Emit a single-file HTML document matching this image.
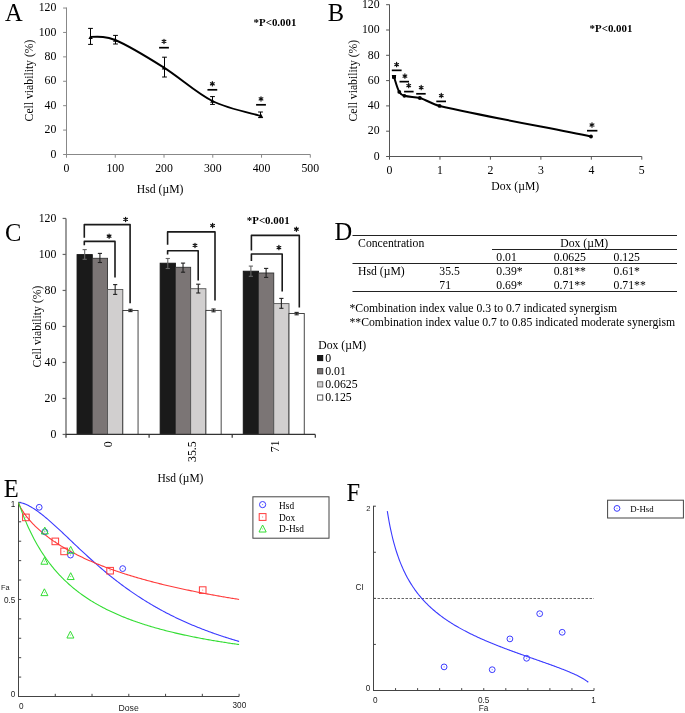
<!DOCTYPE html>
<html><head><meta charset="utf-8"><style>
html,body{margin:0;padding:0;background:#fff;}
body{width:685px;height:713px;overflow:hidden;}
svg{display:block;will-change:transform;}
</style></head><body>
<svg width="685" height="713" viewBox="0 0 685 713">
<rect width="685" height="713" fill="#fff"/>
<text x="5.00" y="20.50" style="font-family:'Liberation Serif',serif;font-size:24.5px;font-weight:normal" text-anchor="start" fill="#000">A</text>
<line x1="66.50" y1="7.50" x2="66.50" y2="155.00" stroke="#888" stroke-width="1"/>
<line x1="66.00" y1="154.50" x2="310.30" y2="154.50" stroke="#888" stroke-width="1"/>
<line x1="63.10" y1="154.50" x2="66.50" y2="154.50" stroke="#888" stroke-width="1"/>
<text x="56.40" y="157.70" style="font-family:'Liberation Serif',serif;font-size:11.8px;font-weight:normal" text-anchor="end" fill="#000">0</text>
<line x1="63.10" y1="130.09" x2="66.50" y2="130.09" stroke="#888" stroke-width="1"/>
<text x="56.40" y="133.29" style="font-family:'Liberation Serif',serif;font-size:11.8px;font-weight:normal" text-anchor="end" fill="#000">20</text>
<line x1="63.10" y1="105.68" x2="66.50" y2="105.68" stroke="#888" stroke-width="1"/>
<text x="56.40" y="108.88" style="font-family:'Liberation Serif',serif;font-size:11.8px;font-weight:normal" text-anchor="end" fill="#000">40</text>
<line x1="63.10" y1="81.27" x2="66.50" y2="81.27" stroke="#888" stroke-width="1"/>
<text x="56.40" y="84.47" style="font-family:'Liberation Serif',serif;font-size:11.8px;font-weight:normal" text-anchor="end" fill="#000">60</text>
<line x1="63.10" y1="56.86" x2="66.50" y2="56.86" stroke="#888" stroke-width="1"/>
<text x="56.40" y="60.06" style="font-family:'Liberation Serif',serif;font-size:11.8px;font-weight:normal" text-anchor="end" fill="#000">80</text>
<line x1="63.10" y1="32.45" x2="66.50" y2="32.45" stroke="#888" stroke-width="1"/>
<text x="56.40" y="35.65" style="font-family:'Liberation Serif',serif;font-size:11.8px;font-weight:normal" text-anchor="end" fill="#000">100</text>
<line x1="63.10" y1="8.04" x2="66.50" y2="8.04" stroke="#888" stroke-width="1"/>
<text x="56.40" y="11.24" style="font-family:'Liberation Serif',serif;font-size:11.8px;font-weight:normal" text-anchor="end" fill="#000">120</text>
<line x1="66.50" y1="154.50" x2="66.50" y2="157.70" stroke="#888" stroke-width="1"/>
<text x="66.50" y="172.10" style="font-family:'Liberation Serif',serif;font-size:11.8px;font-weight:normal" text-anchor="middle" fill="#000">0</text>
<line x1="115.26" y1="154.50" x2="115.26" y2="157.70" stroke="#888" stroke-width="1"/>
<text x="115.26" y="172.10" style="font-family:'Liberation Serif',serif;font-size:11.8px;font-weight:normal" text-anchor="middle" fill="#000">100</text>
<line x1="164.02" y1="154.50" x2="164.02" y2="157.70" stroke="#888" stroke-width="1"/>
<text x="164.02" y="172.10" style="font-family:'Liberation Serif',serif;font-size:11.8px;font-weight:normal" text-anchor="middle" fill="#000">200</text>
<line x1="212.78" y1="154.50" x2="212.78" y2="157.70" stroke="#888" stroke-width="1"/>
<text x="212.78" y="172.10" style="font-family:'Liberation Serif',serif;font-size:11.8px;font-weight:normal" text-anchor="middle" fill="#000">300</text>
<line x1="261.54" y1="154.50" x2="261.54" y2="157.70" stroke="#888" stroke-width="1"/>
<text x="261.54" y="172.10" style="font-family:'Liberation Serif',serif;font-size:11.8px;font-weight:normal" text-anchor="middle" fill="#000">400</text>
<line x1="310.30" y1="154.50" x2="310.30" y2="157.70" stroke="#888" stroke-width="1"/>
<text x="310.30" y="172.10" style="font-family:'Liberation Serif',serif;font-size:11.8px;font-weight:normal" text-anchor="middle" fill="#000">500</text>
<text x="160.10" y="192.50" style="font-family:'Liberation Serif',serif;font-size:11.7px;font-weight:normal" text-anchor="middle" fill="#000">Hsd (µM)</text>
<text x="33.20" y="80.50" style="font-family:'Liberation Serif',serif;font-size:11.7px;font-weight:normal" text-anchor="middle" fill="#000" transform="rotate(-90 33.2 80.5)">Cell viability (%)</text>
<text x="253.60" y="26.00" style="font-family:'Liberation Serif',serif;font-size:10.9px;font-weight:bold" text-anchor="start" fill="#000">*P&lt;0.001</text>
<path d="M90.6,36.9 C100,36.5 106,36.4 115.2,40.0 C127.43,45.07 147.80,57.43 164.00,67.60 C180.20,77.77 196.23,92.93 212.40,101.00 C228.57,109.07 252.90,113.50 261.00,116.00" fill="none" stroke="#000" stroke-width="1.9"/>
<line x1="90.50" y1="28.40" x2="90.50" y2="44.40" stroke="#000" stroke-width="1"/>
<line x1="88.10" y1="28.40" x2="92.90" y2="28.40" stroke="#000" stroke-width="1"/>
<line x1="88.10" y1="44.40" x2="92.90" y2="44.40" stroke="#000" stroke-width="1"/>
<line x1="115.50" y1="35.40" x2="115.50" y2="44.00" stroke="#000" stroke-width="1"/>
<line x1="113.10" y1="35.40" x2="117.90" y2="35.40" stroke="#000" stroke-width="1"/>
<line x1="113.10" y1="44.00" x2="117.90" y2="44.00" stroke="#000" stroke-width="1"/>
<line x1="164.50" y1="57.20" x2="164.50" y2="77.00" stroke="#000" stroke-width="1"/>
<line x1="162.10" y1="57.20" x2="166.90" y2="57.20" stroke="#000" stroke-width="1"/>
<line x1="162.10" y1="77.00" x2="166.90" y2="77.00" stroke="#000" stroke-width="1"/>
<line x1="212.50" y1="96.60" x2="212.50" y2="104.40" stroke="#000" stroke-width="1"/>
<line x1="210.10" y1="96.60" x2="214.90" y2="96.60" stroke="#000" stroke-width="1"/>
<line x1="210.10" y1="104.40" x2="214.90" y2="104.40" stroke="#000" stroke-width="1"/>
<line x1="260.50" y1="112.00" x2="260.50" y2="117.60" stroke="#000" stroke-width="1"/>
<line x1="258.10" y1="112.00" x2="262.90" y2="112.00" stroke="#000" stroke-width="1"/>
<line x1="258.10" y1="117.60" x2="262.90" y2="117.60" stroke="#000" stroke-width="1"/>
<path d="M88.40,39.00 L90.60,35.00 L92.80,39.00 Z" fill="#000"/>
<path d="M113.00,41.80 L115.20,37.80 L117.40,41.80 Z" fill="#000"/>
<path d="M161.80,69.40 L164.00,65.40 L166.20,69.40 Z" fill="#000"/>
<path d="M210.20,102.80 L212.40,98.80 L214.60,102.80 Z" fill="#000"/>
<path d="M258.80,117.80 L261.00,113.80 L263.20,117.80 Z" fill="#000"/>
<line x1="159.10" y1="47.70" x2="168.90" y2="47.70" stroke="#000" stroke-width="1.7"/>
<path d="M164.00,39.25 L164.00,43.55 M162.14,40.32 L165.86,42.48 M165.86,40.32 L162.14,42.48 " stroke="#111" stroke-width="1.2" stroke-linecap="round" fill="none"/>
<line x1="207.45" y1="89.80" x2="217.25" y2="89.80" stroke="#000" stroke-width="1.7"/>
<path d="M212.35,81.65 L212.35,85.95 M210.49,82.72 L214.21,84.88 M214.21,82.72 L210.49,84.88 " stroke="#111" stroke-width="1.2" stroke-linecap="round" fill="none"/>
<line x1="256.10" y1="104.80" x2="265.90" y2="104.80" stroke="#000" stroke-width="1.7"/>
<path d="M261.00,96.75 L261.00,101.05 M259.14,97.83 L262.86,99.98 M262.86,97.83 L259.14,99.98 " stroke="#111" stroke-width="1.2" stroke-linecap="round" fill="none"/>
<text x="327.80" y="20.50" style="font-family:'Liberation Serif',serif;font-size:24.5px;font-weight:normal" text-anchor="start" fill="#000">B</text>
<line x1="389.50" y1="4.50" x2="389.50" y2="157.00" stroke="#555" stroke-width="1"/>
<line x1="389.00" y1="156.50" x2="641.80" y2="156.50" stroke="#555" stroke-width="1"/>
<line x1="386.10" y1="156.50" x2="389.50" y2="156.50" stroke="#555" stroke-width="1"/>
<text x="379.60" y="159.70" style="font-family:'Liberation Serif',serif;font-size:11.8px;font-weight:normal" text-anchor="end" fill="#000">0</text>
<line x1="386.10" y1="131.20" x2="389.50" y2="131.20" stroke="#555" stroke-width="1"/>
<text x="379.60" y="134.40" style="font-family:'Liberation Serif',serif;font-size:11.8px;font-weight:normal" text-anchor="end" fill="#000">20</text>
<line x1="386.10" y1="105.90" x2="389.50" y2="105.90" stroke="#555" stroke-width="1"/>
<text x="379.60" y="109.10" style="font-family:'Liberation Serif',serif;font-size:11.8px;font-weight:normal" text-anchor="end" fill="#000">40</text>
<line x1="386.10" y1="80.60" x2="389.50" y2="80.60" stroke="#555" stroke-width="1"/>
<text x="379.60" y="83.80" style="font-family:'Liberation Serif',serif;font-size:11.8px;font-weight:normal" text-anchor="end" fill="#000">60</text>
<line x1="386.10" y1="55.30" x2="389.50" y2="55.30" stroke="#555" stroke-width="1"/>
<text x="379.60" y="58.50" style="font-family:'Liberation Serif',serif;font-size:11.8px;font-weight:normal" text-anchor="end" fill="#000">80</text>
<line x1="386.10" y1="30.00" x2="389.50" y2="30.00" stroke="#555" stroke-width="1"/>
<text x="379.60" y="33.20" style="font-family:'Liberation Serif',serif;font-size:11.8px;font-weight:normal" text-anchor="end" fill="#000">100</text>
<line x1="386.10" y1="4.70" x2="389.50" y2="4.70" stroke="#555" stroke-width="1"/>
<text x="379.60" y="7.90" style="font-family:'Liberation Serif',serif;font-size:11.8px;font-weight:normal" text-anchor="end" fill="#000">120</text>
<line x1="389.50" y1="156.50" x2="389.50" y2="159.70" stroke="#555" stroke-width="1"/>
<text x="389.50" y="174.00" style="font-family:'Liberation Serif',serif;font-size:11.8px;font-weight:normal" text-anchor="middle" fill="#000">0</text>
<line x1="439.96" y1="156.50" x2="439.96" y2="159.70" stroke="#555" stroke-width="1"/>
<text x="439.96" y="174.00" style="font-family:'Liberation Serif',serif;font-size:11.8px;font-weight:normal" text-anchor="middle" fill="#000">1</text>
<line x1="490.42" y1="156.50" x2="490.42" y2="159.70" stroke="#555" stroke-width="1"/>
<text x="490.42" y="174.00" style="font-family:'Liberation Serif',serif;font-size:11.8px;font-weight:normal" text-anchor="middle" fill="#000">2</text>
<line x1="540.88" y1="156.50" x2="540.88" y2="159.70" stroke="#555" stroke-width="1"/>
<text x="540.88" y="174.00" style="font-family:'Liberation Serif',serif;font-size:11.8px;font-weight:normal" text-anchor="middle" fill="#000">3</text>
<line x1="591.34" y1="156.50" x2="591.34" y2="159.70" stroke="#555" stroke-width="1"/>
<text x="591.34" y="174.00" style="font-family:'Liberation Serif',serif;font-size:11.8px;font-weight:normal" text-anchor="middle" fill="#000">4</text>
<line x1="641.80" y1="156.50" x2="641.80" y2="159.70" stroke="#555" stroke-width="1"/>
<text x="641.80" y="174.00" style="font-family:'Liberation Serif',serif;font-size:11.8px;font-weight:normal" text-anchor="middle" fill="#000">5</text>
<text x="515.20" y="190.00" style="font-family:'Liberation Serif',serif;font-size:11.7px;font-weight:normal" text-anchor="middle" fill="#000">Dox (µM)</text>
<text x="357.20" y="80.70" style="font-family:'Liberation Serif',serif;font-size:11.7px;font-weight:normal" text-anchor="middle" fill="#000" transform="rotate(-90 357.2 80.7)">Cell viability (%)</text>
<text x="589.60" y="31.70" style="font-family:'Liberation Serif',serif;font-size:10.9px;font-weight:bold" text-anchor="start" fill="#000">*P&lt;0.001</text>
<path d="M394.00,77.00 C395.75,81.92 396.77,87.33 399.30,91.90 C400.33,93.75 402.37,95.20 404.40,95.80 C409.32,97.26 414.87,96.58 419.80,98.00 C426.56,99.94 432.74,104.36 439.60,105.90 C489.33,117.08 541.04,126.40 591.00,136.50" fill="none" stroke="#000" stroke-width="2"/>
<circle cx="394.00" cy="77.00" r="1.9" fill="#000"/>
<circle cx="399.30" cy="91.90" r="1.9" fill="#000"/>
<circle cx="404.40" cy="95.80" r="1.9" fill="#000"/>
<circle cx="419.80" cy="98.00" r="1.9" fill="#000"/>
<circle cx="439.60" cy="105.90" r="1.9" fill="#000"/>
<circle cx="591.00" cy="136.50" r="1.9" fill="#000"/>
<line x1="391.90" y1="75.60" x2="396.10" y2="75.60" stroke="#000" stroke-width="1.2"/>
<line x1="394.00" y1="75.60" x2="394.00" y2="78.00" stroke="#000" stroke-width="1.4"/>
<rect x="392" y="75.6" width="4" height="3" fill="#000"/>
<line x1="391.80" y1="70.35" x2="401.60" y2="70.35" stroke="#000" stroke-width="1.7"/>
<path d="M396.60,62.45 L396.60,66.75 M394.74,63.52 L398.46,65.67 M398.46,63.52 L394.74,65.67 " stroke="#111" stroke-width="1.2" stroke-linecap="round" fill="none"/>
<line x1="399.50" y1="81.65" x2="409.00" y2="81.65" stroke="#000" stroke-width="1.7"/>
<path d="M404.90,73.95 L404.90,78.25 M403.04,75.02 L406.76,77.17 M406.76,75.02 L403.04,77.17 " stroke="#111" stroke-width="1.2" stroke-linecap="round" fill="none"/>
<line x1="404.10" y1="91.60" x2="413.60" y2="91.60" stroke="#000" stroke-width="1.7"/>
<path d="M408.70,83.45 L408.70,87.75 M406.84,84.52 L410.56,86.67 M410.56,84.52 L406.84,86.67 " stroke="#111" stroke-width="1.2" stroke-linecap="round" fill="none"/>
<line x1="416.20" y1="93.80" x2="425.70" y2="93.80" stroke="#000" stroke-width="1.7"/>
<path d="M421.20,85.45 L421.20,89.75 M419.34,86.52 L423.06,88.67 M423.06,86.52 L419.34,88.67 " stroke="#111" stroke-width="1.2" stroke-linecap="round" fill="none"/>
<line x1="436.30" y1="101.40" x2="446.00" y2="101.40" stroke="#000" stroke-width="1.7"/>
<path d="M441.30,93.45 L441.30,97.75 M439.44,94.52 L443.16,96.67 M443.16,94.52 L439.44,96.67 " stroke="#111" stroke-width="1.2" stroke-linecap="round" fill="none"/>
<line x1="587.00" y1="130.70" x2="597.40" y2="130.70" stroke="#000" stroke-width="1.7"/>
<path d="M592.00,122.85 L592.00,127.15 M590.14,123.92 L593.86,126.08 M593.86,123.92 L590.14,126.08 " stroke="#111" stroke-width="1.2" stroke-linecap="round" fill="none"/>
<text x="5.00" y="240.80" style="font-family:'Liberation Serif',serif;font-size:24.5px;font-weight:normal" text-anchor="start" fill="#000">C</text>
<rect x="77.05" y="254.60" width="15.25" height="179.85" fill="#1a1a1a" stroke="#111" stroke-width="0.9"/>
<rect x="92.30" y="258.30" width="15.25" height="176.15" fill="#7b7575" stroke="#333" stroke-width="0.9"/>
<rect x="107.55" y="289.50" width="15.25" height="144.95" fill="#d1cfcf" stroke="#555" stroke-width="0.9"/>
<rect x="122.80" y="310.50" width="15.25" height="123.95" fill="#ffffff" stroke="#333" stroke-width="0.9"/>
<rect x="160.15" y="263.20" width="15.25" height="171.25" fill="#1a1a1a" stroke="#111" stroke-width="0.9"/>
<rect x="175.40" y="267.30" width="15.25" height="167.15" fill="#7b7575" stroke="#333" stroke-width="0.9"/>
<rect x="190.65" y="288.70" width="15.25" height="145.75" fill="#d1cfcf" stroke="#555" stroke-width="0.9"/>
<rect x="205.90" y="310.40" width="15.25" height="124.05" fill="#ffffff" stroke="#333" stroke-width="0.9"/>
<rect x="243.25" y="271.20" width="15.25" height="163.25" fill="#1a1a1a" stroke="#111" stroke-width="0.9"/>
<rect x="258.50" y="273.00" width="15.25" height="161.45" fill="#7b7575" stroke="#333" stroke-width="0.9"/>
<rect x="273.75" y="303.60" width="15.25" height="130.85" fill="#d1cfcf" stroke="#555" stroke-width="0.9"/>
<rect x="289.00" y="313.50" width="15.25" height="120.95" fill="#ffffff" stroke="#333" stroke-width="0.9"/>
<line x1="66.00" y1="218.50" x2="66.00" y2="434.95" stroke="#666" stroke-width="1.3"/>
<line x1="65.50" y1="434.45" x2="315.30" y2="434.45" stroke="#333" stroke-width="1.2"/>
<line x1="62.60" y1="434.45" x2="66.00" y2="434.45" stroke="#666" stroke-width="1.2"/>
<text x="56.40" y="437.65" style="font-family:'Liberation Serif',serif;font-size:11.8px;font-weight:normal" text-anchor="end" fill="#000">0</text>
<line x1="62.60" y1="398.45" x2="66.00" y2="398.45" stroke="#666" stroke-width="1.2"/>
<text x="56.40" y="401.65" style="font-family:'Liberation Serif',serif;font-size:11.8px;font-weight:normal" text-anchor="end" fill="#000">20</text>
<line x1="62.60" y1="362.45" x2="66.00" y2="362.45" stroke="#666" stroke-width="1.2"/>
<text x="56.40" y="365.65" style="font-family:'Liberation Serif',serif;font-size:11.8px;font-weight:normal" text-anchor="end" fill="#000">40</text>
<line x1="62.60" y1="326.45" x2="66.00" y2="326.45" stroke="#666" stroke-width="1.2"/>
<text x="56.40" y="329.65" style="font-family:'Liberation Serif',serif;font-size:11.8px;font-weight:normal" text-anchor="end" fill="#000">60</text>
<line x1="62.60" y1="290.45" x2="66.00" y2="290.45" stroke="#666" stroke-width="1.2"/>
<text x="56.40" y="293.65" style="font-family:'Liberation Serif',serif;font-size:11.8px;font-weight:normal" text-anchor="end" fill="#000">80</text>
<line x1="62.60" y1="254.45" x2="66.00" y2="254.45" stroke="#666" stroke-width="1.2"/>
<text x="56.40" y="257.65" style="font-family:'Liberation Serif',serif;font-size:11.8px;font-weight:normal" text-anchor="end" fill="#000">100</text>
<line x1="62.60" y1="218.45" x2="66.00" y2="218.45" stroke="#666" stroke-width="1.2"/>
<text x="56.40" y="221.65" style="font-family:'Liberation Serif',serif;font-size:11.8px;font-weight:normal" text-anchor="end" fill="#000">120</text>
<line x1="66.00" y1="434.45" x2="66.00" y2="437.65" stroke="#333" stroke-width="1.2"/>
<line x1="149.10" y1="434.45" x2="149.10" y2="437.65" stroke="#333" stroke-width="1.2"/>
<line x1="232.20" y1="434.45" x2="232.20" y2="437.65" stroke="#333" stroke-width="1.2"/>
<line x1="315.30" y1="434.45" x2="315.30" y2="437.65" stroke="#333" stroke-width="1.2"/>
<line x1="84.67" y1="249.60" x2="84.67" y2="259.30" stroke="#666" stroke-width="1.1"/>
<line x1="82.58" y1="249.60" x2="86.77" y2="249.60" stroke="#666" stroke-width="1.1"/>
<line x1="82.58" y1="259.30" x2="86.77" y2="259.30" stroke="#666" stroke-width="1.1"/>
<line x1="99.92" y1="253.40" x2="99.92" y2="262.50" stroke="#222" stroke-width="1.1"/>
<line x1="97.83" y1="253.40" x2="102.02" y2="253.40" stroke="#222" stroke-width="1.1"/>
<line x1="97.83" y1="262.50" x2="102.02" y2="262.50" stroke="#222" stroke-width="1.1"/>
<line x1="115.17" y1="284.60" x2="115.17" y2="294.40" stroke="#222" stroke-width="1.1"/>
<line x1="113.08" y1="284.60" x2="117.27" y2="284.60" stroke="#222" stroke-width="1.1"/>
<line x1="113.08" y1="294.40" x2="117.27" y2="294.40" stroke="#222" stroke-width="1.1"/>
<line x1="130.43" y1="309.30" x2="130.43" y2="311.60" stroke="#222" stroke-width="1.1"/>
<line x1="128.33" y1="309.30" x2="132.53" y2="309.30" stroke="#222" stroke-width="1.1"/>
<line x1="128.33" y1="311.60" x2="132.53" y2="311.60" stroke="#222" stroke-width="1.1"/>
<line x1="167.78" y1="258.50" x2="167.78" y2="268.50" stroke="#666" stroke-width="1.1"/>
<line x1="165.68" y1="258.50" x2="169.88" y2="258.50" stroke="#666" stroke-width="1.1"/>
<line x1="165.68" y1="268.50" x2="169.88" y2="268.50" stroke="#666" stroke-width="1.1"/>
<line x1="183.03" y1="263.10" x2="183.03" y2="272.20" stroke="#222" stroke-width="1.1"/>
<line x1="180.93" y1="263.10" x2="185.12" y2="263.10" stroke="#222" stroke-width="1.1"/>
<line x1="180.93" y1="272.20" x2="185.12" y2="272.20" stroke="#222" stroke-width="1.1"/>
<line x1="198.28" y1="284.20" x2="198.28" y2="293.00" stroke="#222" stroke-width="1.1"/>
<line x1="196.18" y1="284.20" x2="200.38" y2="284.20" stroke="#222" stroke-width="1.1"/>
<line x1="196.18" y1="293.00" x2="200.38" y2="293.00" stroke="#222" stroke-width="1.1"/>
<line x1="213.53" y1="309.00" x2="213.53" y2="311.80" stroke="#222" stroke-width="1.1"/>
<line x1="211.43" y1="309.00" x2="215.62" y2="309.00" stroke="#222" stroke-width="1.1"/>
<line x1="211.43" y1="311.80" x2="215.62" y2="311.80" stroke="#222" stroke-width="1.1"/>
<line x1="250.88" y1="266.10" x2="250.88" y2="276.30" stroke="#666" stroke-width="1.1"/>
<line x1="248.78" y1="266.10" x2="252.97" y2="266.10" stroke="#666" stroke-width="1.1"/>
<line x1="248.78" y1="276.30" x2="252.97" y2="276.30" stroke="#666" stroke-width="1.1"/>
<line x1="266.12" y1="268.40" x2="266.12" y2="277.40" stroke="#222" stroke-width="1.1"/>
<line x1="264.02" y1="268.40" x2="268.23" y2="268.40" stroke="#222" stroke-width="1.1"/>
<line x1="264.02" y1="277.40" x2="268.23" y2="277.40" stroke="#222" stroke-width="1.1"/>
<line x1="281.38" y1="298.40" x2="281.38" y2="308.30" stroke="#222" stroke-width="1.1"/>
<line x1="279.27" y1="298.40" x2="283.48" y2="298.40" stroke="#222" stroke-width="1.1"/>
<line x1="279.27" y1="308.30" x2="283.48" y2="308.30" stroke="#222" stroke-width="1.1"/>
<line x1="296.62" y1="312.40" x2="296.62" y2="314.80" stroke="#222" stroke-width="1.1"/>
<line x1="294.52" y1="312.40" x2="298.73" y2="312.40" stroke="#222" stroke-width="1.1"/>
<line x1="294.52" y1="314.80" x2="298.73" y2="314.80" stroke="#222" stroke-width="1.1"/>
<path d="M84.3,237.7 L84.3,224.6 L130.1,224.6 L130.1,303.3" fill="none" stroke="#1a1a1a" stroke-width="1.6" stroke-linejoin="round"/>
<path d="M84.3,245.3 L84.3,241.4 L115.0,241.4 L115.0,277.5" fill="none" stroke="#1a1a1a" stroke-width="1.6" stroke-linejoin="round"/>
<path d="M125.60,217.25 L125.60,221.55 M123.74,218.33 L127.46,220.47 M127.46,218.33 L123.74,220.47 " stroke="#111" stroke-width="1.2" stroke-linecap="round" fill="none"/>
<path d="M109.10,234.05 L109.10,238.35 M107.24,235.12 L110.96,237.27 M110.96,235.12 L107.24,237.27 " stroke="#111" stroke-width="1.2" stroke-linecap="round" fill="none"/>
<path d="M167.6,244.8 L167.6,231.9 L215.0,231.9 L215.0,300.6" fill="none" stroke="#1a1a1a" stroke-width="1.6" stroke-linejoin="round"/>
<path d="M167.6,254.5 L167.6,250.7 L198.2,250.7 L198.2,280.5" fill="none" stroke="#1a1a1a" stroke-width="1.6" stroke-linejoin="round"/>
<path d="M212.60,223.35 L212.60,227.65 M210.74,224.43 L214.46,226.57 M214.46,224.43 L210.74,226.57 " stroke="#111" stroke-width="1.2" stroke-linecap="round" fill="none"/>
<path d="M195.00,243.25 L195.00,247.55 M193.14,244.33 L196.86,246.47 M196.86,244.33 L193.14,246.47 " stroke="#111" stroke-width="1.2" stroke-linecap="round" fill="none"/>
<path d="M251.4,250.6 L251.4,235.4 L299.3,235.4 L299.3,307.6" fill="none" stroke="#1a1a1a" stroke-width="1.6" stroke-linejoin="round"/>
<path d="M251.4,261.0 L251.4,254.0 L282.2,254.0 L282.2,291.6" fill="none" stroke="#1a1a1a" stroke-width="1.6" stroke-linejoin="round"/>
<path d="M296.40,227.05 L296.40,231.35 M294.54,228.12 L298.26,230.27 M298.26,228.12 L294.54,230.27 " stroke="#111" stroke-width="1.2" stroke-linecap="round" fill="none"/>
<path d="M278.90,245.45 L278.90,249.75 M277.04,246.53 L280.76,248.67 M280.76,246.53 L277.04,248.67 " stroke="#111" stroke-width="1.2" stroke-linecap="round" fill="none"/>
<text x="246.80" y="223.50" style="font-family:'Liberation Serif',serif;font-size:10.9px;font-weight:bold" text-anchor="start" fill="#000">*P&lt;0.001</text>
<text x="40.60" y="326.50" style="font-family:'Liberation Serif',serif;font-size:11.7px;font-weight:normal" text-anchor="middle" fill="#000" transform="rotate(-90 40.6 326.5)">Cell viability (%)</text>
<text x="112.20" y="441.30" style="font-family:'Liberation Serif',serif;font-size:11.8px;font-weight:normal" text-anchor="end" fill="#000" transform="rotate(-90 112.2 441.3)">0</text>
<text x="195.60" y="441.30" style="font-family:'Liberation Serif',serif;font-size:11.8px;font-weight:normal" text-anchor="end" fill="#000" transform="rotate(-90 195.6 441.3)">35.5</text>
<text x="278.60" y="440.40" style="font-family:'Liberation Serif',serif;font-size:11.8px;font-weight:normal" text-anchor="end" fill="#000" transform="rotate(-90 278.6 440.4)">71</text>
<text x="180.50" y="481.50" style="font-family:'Liberation Serif',serif;font-size:11.5px;font-weight:normal" text-anchor="middle" fill="#000">Hsd (µM)</text>
<text x="318.30" y="349.20" style="font-family:'Liberation Serif',serif;font-size:11.7px;font-weight:normal" text-anchor="start" fill="#000">Dox (µM)</text>
<rect x="317.6" y="355.50" width="5.2" height="5.2" fill="#1a1a1a" stroke="#000" stroke-width="0.8"/>
<text x="325.20" y="361.50" style="font-family:'Liberation Serif',serif;font-size:11.8px;font-weight:normal" text-anchor="start" fill="#000">0</text>
<rect x="317.6" y="368.65" width="5.2" height="5.2" fill="#7b7575" stroke="#333" stroke-width="0.8"/>
<text x="325.20" y="374.65" style="font-family:'Liberation Serif',serif;font-size:11.8px;font-weight:normal" text-anchor="start" fill="#000">0.01</text>
<rect x="317.6" y="381.80" width="5.2" height="5.2" fill="#d1cfcf" stroke="#555" stroke-width="0.8"/>
<text x="325.20" y="387.80" style="font-family:'Liberation Serif',serif;font-size:11.8px;font-weight:normal" text-anchor="start" fill="#000">0.0625</text>
<rect x="317.6" y="394.95" width="5.2" height="5.2" fill="#ffffff" stroke="#333" stroke-width="0.8"/>
<text x="325.20" y="400.95" style="font-family:'Liberation Serif',serif;font-size:11.8px;font-weight:normal" text-anchor="start" fill="#000">0.125</text>
<text x="334.50" y="240.20" style="font-family:'Liberation Serif',serif;font-size:24.5px;font-weight:normal" text-anchor="start" fill="#000">D</text>
<line x1="352.50" y1="235.50" x2="677.00" y2="235.50" stroke="#222" stroke-width="1.1"/>
<line x1="492.00" y1="249.50" x2="677.00" y2="249.50" stroke="#222" stroke-width="1.1"/>
<line x1="352.50" y1="263.50" x2="677.00" y2="263.50" stroke="#222" stroke-width="1.1"/>
<line x1="352.50" y1="291.50" x2="677.00" y2="291.50" stroke="#222" stroke-width="1.1"/>
<text x="358.10" y="246.80" style="font-family:'Liberation Serif',serif;font-size:11.7px;font-weight:normal" text-anchor="start" fill="#000">Concentration</text>
<text x="584.20" y="246.90" style="font-family:'Liberation Serif',serif;font-size:11.7px;font-weight:normal" text-anchor="middle" fill="#000">Dox (µM)</text>
<text x="496.30" y="260.90" style="font-family:'Liberation Serif',serif;font-size:11.7px;font-weight:normal" text-anchor="start" fill="#000">0.01</text>
<text x="553.70" y="260.90" style="font-family:'Liberation Serif',serif;font-size:11.7px;font-weight:normal" text-anchor="start" fill="#000">0.0625</text>
<text x="613.60" y="260.90" style="font-family:'Liberation Serif',serif;font-size:11.7px;font-weight:normal" text-anchor="start" fill="#000">0.125</text>
<text x="358.10" y="275.40" style="font-family:'Liberation Serif',serif;font-size:11.7px;font-weight:normal" text-anchor="start" fill="#000">Hsd (µM)</text>
<text x="439.30" y="275.40" style="font-family:'Liberation Serif',serif;font-size:11.7px;font-weight:normal" text-anchor="start" fill="#000">35.5</text>
<text x="439.30" y="289.40" style="font-family:'Liberation Serif',serif;font-size:11.7px;font-weight:normal" text-anchor="start" fill="#000">71</text>
<text x="496.30" y="275.30" style="font-family:'Liberation Serif',serif;font-size:11.7px;font-weight:normal" text-anchor="start" fill="#000">0.39*</text>
<text x="553.70" y="275.30" style="font-family:'Liberation Serif',serif;font-size:11.7px;font-weight:normal" text-anchor="start" fill="#000">0.81**</text>
<text x="613.60" y="275.30" style="font-family:'Liberation Serif',serif;font-size:11.7px;font-weight:normal" text-anchor="start" fill="#000">0.61*</text>
<text x="496.30" y="289.40" style="font-family:'Liberation Serif',serif;font-size:11.7px;font-weight:normal" text-anchor="start" fill="#000">0.69*</text>
<text x="553.70" y="289.40" style="font-family:'Liberation Serif',serif;font-size:11.7px;font-weight:normal" text-anchor="start" fill="#000">0.71**</text>
<text x="613.60" y="289.40" style="font-family:'Liberation Serif',serif;font-size:11.7px;font-weight:normal" text-anchor="start" fill="#000">0.71**</text>
<text x="349.50" y="311.50" style="font-family:'Liberation Serif',serif;font-size:11.7px;font-weight:normal" text-anchor="start" fill="#000">*Combination index value 0.3 to 0.7 indicated synergism</text>
<text x="349.50" y="325.60" style="font-family:'Liberation Serif',serif;font-size:11.7px;font-weight:normal" text-anchor="start" fill="#000">**Combination index value 0.7 to 0.85 indicated moderate synergism</text>
<text x="3.80" y="497.20" style="font-family:'Liberation Serif',serif;font-size:24.5px;font-weight:normal" text-anchor="start" fill="#000">E</text>
<line x1="18.50" y1="502.50" x2="18.50" y2="697.00" stroke="#444" stroke-width="1"/>
<line x1="18.00" y1="696.50" x2="239.10" y2="696.50" stroke="#444" stroke-width="1"/>
<line x1="18.50" y1="677.09" x2="21.20" y2="677.09" stroke="#444" stroke-width="1"/>
<line x1="18.50" y1="657.68" x2="21.20" y2="657.68" stroke="#444" stroke-width="1"/>
<line x1="18.50" y1="638.27" x2="21.20" y2="638.27" stroke="#444" stroke-width="1"/>
<line x1="18.50" y1="618.86" x2="21.20" y2="618.86" stroke="#444" stroke-width="1"/>
<line x1="18.50" y1="599.45" x2="21.20" y2="599.45" stroke="#444" stroke-width="1"/>
<line x1="18.50" y1="580.04" x2="21.20" y2="580.04" stroke="#444" stroke-width="1"/>
<line x1="18.50" y1="560.63" x2="21.20" y2="560.63" stroke="#444" stroke-width="1"/>
<line x1="18.50" y1="541.22" x2="21.20" y2="541.22" stroke="#444" stroke-width="1"/>
<line x1="18.50" y1="521.81" x2="21.20" y2="521.81" stroke="#444" stroke-width="1"/>
<line x1="18.50" y1="502.40" x2="21.20" y2="502.40" stroke="#444" stroke-width="1"/>
<line x1="55.27" y1="696.50" x2="55.27" y2="693.80" stroke="#444" stroke-width="1"/>
<line x1="92.03" y1="696.50" x2="92.03" y2="693.80" stroke="#444" stroke-width="1"/>
<line x1="128.80" y1="696.50" x2="128.80" y2="693.80" stroke="#444" stroke-width="1"/>
<line x1="165.57" y1="696.50" x2="165.57" y2="693.80" stroke="#444" stroke-width="1"/>
<line x1="202.33" y1="696.50" x2="202.33" y2="693.80" stroke="#444" stroke-width="1"/>
<line x1="239.10" y1="696.50" x2="239.10" y2="693.80" stroke="#444" stroke-width="1"/>
<text x="15.40" y="507.20" style="font-family:'Liberation Sans',sans-serif;font-size:8.2px;font-weight:normal" text-anchor="end" fill="#222">1</text>
<text x="15.40" y="602.90" style="font-family:'Liberation Sans',sans-serif;font-size:8.2px;font-weight:normal" text-anchor="end" fill="#222">0.5</text>
<text x="15.40" y="696.50" style="font-family:'Liberation Sans',sans-serif;font-size:8.2px;font-weight:normal" text-anchor="end" fill="#222">0</text>
<text x="1.00" y="590.40" style="font-family:'Liberation Sans',sans-serif;font-size:7.4px;font-weight:normal" text-anchor="start" fill="#222">Fa</text>
<text x="19.00" y="708.50" style="font-family:'Liberation Sans',sans-serif;font-size:8.2px;font-weight:normal" text-anchor="start" fill="#222">0</text>
<text x="118.50" y="711.20" style="font-family:'Liberation Sans',sans-serif;font-size:8.7px;font-weight:normal" text-anchor="start" fill="#222">Dose</text>
<text x="239.40" y="708.00" style="font-family:'Liberation Sans',sans-serif;font-size:8.2px;font-weight:normal" text-anchor="middle" fill="#222">300</text>
<path d="M18.50,502.40 L19.61,502.49 L20.72,502.68 L21.83,502.94 L22.93,503.26 L24.04,503.64 L25.15,504.06 L26.26,504.53 L27.37,505.03 L28.48,505.58 L29.59,506.16 L30.69,506.77 L31.80,507.42 L32.91,508.10 L34.02,508.80 L35.13,509.53 L36.24,510.29 L37.35,511.06 L38.45,511.87 L39.56,512.69 L40.67,513.53 L41.78,514.39 L42.89,515.27 L44.00,516.16 L45.11,517.07 L46.21,517.99 L47.32,518.93 L48.43,519.88 L49.54,520.84 L50.65,521.82 L51.76,522.80 L52.86,523.79 L53.97,524.79 L55.08,525.80 L56.19,526.81 L57.30,527.84 L58.41,528.86 L59.52,529.90 L60.62,530.93 L61.73,531.97 L62.84,533.02 L63.95,534.07 L65.06,535.11 L66.17,536.17 L67.28,537.22 L68.38,538.27 L69.49,539.33 L70.60,540.38 L71.71,541.44 L72.82,542.49 L73.93,543.54 L75.04,544.59 L76.14,545.64 L77.25,546.69 L78.36,547.74 L79.47,548.78 L80.58,549.82 L81.69,550.85 L82.80,551.89 L83.90,552.92 L85.01,553.94 L86.12,554.96 L87.23,555.98 L88.34,556.99 L89.45,558.00 L90.56,559.00 L91.66,560.00 L92.77,561.00 L93.88,561.98 L94.99,562.97 L96.10,563.94 L97.21,564.91 L98.32,565.88 L99.42,566.84 L100.53,567.79 L101.64,568.74 L102.75,569.68 L103.86,570.62 L104.97,571.54 L106.07,572.47 L107.18,573.38 L108.29,574.29 L109.40,575.20 L110.51,576.09 L111.62,576.98 L112.73,577.87 L113.83,578.74 L114.94,579.61 L116.05,580.48 L117.16,581.33 L118.27,582.18 L119.38,583.03 L120.49,583.86 L121.59,584.69 L122.70,585.52 L123.81,586.33 L124.92,587.14 L126.03,587.95 L127.14,588.74 L128.25,589.53 L129.35,590.31 L130.46,591.09 L131.57,591.86 L132.68,592.62 L133.79,593.38 L134.90,594.13 L136.01,594.88 L137.11,595.61 L138.22,596.34 L139.33,597.07 L140.44,597.79 L141.55,598.50 L142.66,599.20 L143.77,599.90 L144.87,600.60 L145.98,601.28 L147.09,601.96 L148.20,602.64 L149.31,603.31 L150.42,603.97 L151.53,604.63 L152.63,605.28 L153.74,605.92 L154.85,606.56 L155.96,607.20 L157.07,607.82 L158.18,608.44 L159.28,609.06 L160.39,609.67 L161.50,610.28 L162.61,610.88 L163.72,611.47 L164.83,612.06 L165.94,612.64 L167.04,613.22 L168.15,613.79 L169.26,614.36 L170.37,614.92 L171.48,615.48 L172.59,616.03 L173.70,616.58 L174.80,617.12 L175.91,617.66 L177.02,618.19 L178.13,618.71 L179.24,619.24 L180.35,619.75 L181.46,620.27 L182.56,620.78 L183.67,621.28 L184.78,621.78 L185.89,622.27 L187.00,622.76 L188.11,623.25 L189.22,623.73 L190.32,624.20 L191.43,624.68 L192.54,625.14 L193.65,625.61 L194.76,626.07 L195.87,626.52 L196.98,626.97 L198.08,627.42 L199.19,627.86 L200.30,628.30 L201.41,628.74 L202.52,629.17 L203.63,629.60 L204.74,630.02 L205.84,630.44 L206.95,630.86 L208.06,631.27 L209.17,631.68 L210.28,632.08 L211.39,632.48 L212.49,632.88 L213.60,633.27 L214.71,633.66 L215.82,634.05 L216.93,634.44 L218.04,634.82 L219.15,635.19 L220.25,635.57 L221.36,635.94 L222.47,636.30 L223.58,636.67 L224.69,637.03 L225.80,637.39 L226.91,637.74 L228.01,638.09 L229.12,638.44 L230.23,638.79 L231.34,639.13 L232.45,639.47 L233.56,639.81 L234.67,640.14 L235.77,640.47 L236.88,640.80 L237.99,641.12 L239.10,641.45" fill="none" stroke="#3a3aff" stroke-width="1.1"/>
<path d="M18.50,502.40 L19.61,505.49 L20.72,507.70 L21.83,509.65 L22.93,511.42 L24.04,513.07 L25.15,514.63 L26.26,516.10 L27.37,517.51 L28.48,518.86 L29.59,520.16 L30.69,521.41 L31.80,522.62 L32.91,523.79 L34.02,524.93 L35.13,526.04 L36.24,527.11 L37.35,528.16 L38.45,529.18 L39.56,530.17 L40.67,531.14 L41.78,532.09 L42.89,533.02 L44.00,533.93 L45.11,534.82 L46.21,535.69 L47.32,536.54 L48.43,537.38 L49.54,538.20 L50.65,539.01 L51.76,539.80 L52.86,540.58 L53.97,541.34 L55.08,542.09 L56.19,542.83 L57.30,543.56 L58.41,544.27 L59.52,544.97 L60.62,545.66 L61.73,546.35 L62.84,547.02 L63.95,547.68 L65.06,548.33 L66.17,548.97 L67.28,549.60 L68.38,550.23 L69.49,550.84 L70.60,551.45 L71.71,552.04 L72.82,552.63 L73.93,553.22 L75.04,553.79 L76.14,554.36 L77.25,554.92 L78.36,555.47 L79.47,556.02 L80.58,556.55 L81.69,557.09 L82.80,557.61 L83.90,558.13 L85.01,558.65 L86.12,559.15 L87.23,559.65 L88.34,560.15 L89.45,560.64 L90.56,561.12 L91.66,561.60 L92.77,562.08 L93.88,562.55 L94.99,563.01 L96.10,563.47 L97.21,563.92 L98.32,564.37 L99.42,564.81 L100.53,565.25 L101.64,565.69 L102.75,566.12 L103.86,566.55 L104.97,566.97 L106.07,567.39 L107.18,567.80 L108.29,568.21 L109.40,568.61 L110.51,569.02 L111.62,569.41 L112.73,569.81 L113.83,570.20 L114.94,570.58 L116.05,570.97 L117.16,571.35 L118.27,571.72 L119.38,572.09 L120.49,572.46 L121.59,572.83 L122.70,573.19 L123.81,573.55 L124.92,573.91 L126.03,574.26 L127.14,574.61 L128.25,574.96 L129.35,575.30 L130.46,575.64 L131.57,575.98 L132.68,576.31 L133.79,576.65 L134.90,576.98 L136.01,577.30 L137.11,577.63 L138.22,577.95 L139.33,578.27 L140.44,578.58 L141.55,578.90 L142.66,579.21 L143.77,579.52 L144.87,579.82 L145.98,580.13 L147.09,580.43 L148.20,580.73 L149.31,581.02 L150.42,581.32 L151.53,581.61 L152.63,581.90 L153.74,582.19 L154.85,582.47 L155.96,582.76 L157.07,583.04 L158.18,583.32 L159.28,583.60 L160.39,583.87 L161.50,584.15 L162.61,584.42 L163.72,584.69 L164.83,584.95 L165.94,585.22 L167.04,585.48 L168.15,585.74 L169.26,586.00 L170.37,586.26 L171.48,586.52 L172.59,586.77 L173.70,587.03 L174.80,587.28 L175.91,587.53 L177.02,587.77 L178.13,588.02 L179.24,588.27 L180.35,588.51 L181.46,588.75 L182.56,588.99 L183.67,589.23 L184.78,589.46 L185.89,589.70 L187.00,589.93 L188.11,590.16 L189.22,590.39 L190.32,590.62 L191.43,590.85 L192.54,591.07 L193.65,591.30 L194.76,591.52 L195.87,591.74 L196.98,591.96 L198.08,592.18 L199.19,592.40 L200.30,592.62 L201.41,592.83 L202.52,593.04 L203.63,593.26 L204.74,593.47 L205.84,593.68 L206.95,593.89 L208.06,594.09 L209.17,594.30 L210.28,594.50 L211.39,594.71 L212.49,594.91 L213.60,595.11 L214.71,595.31 L215.82,595.51 L216.93,595.71 L218.04,595.90 L219.15,596.10 L220.25,596.29 L221.36,596.48 L222.47,596.68 L223.58,596.87 L224.69,597.06 L225.80,597.25 L226.91,597.43 L228.01,597.62 L229.12,597.81 L230.23,597.99 L231.34,598.17 L232.45,598.36 L233.56,598.54 L234.67,598.72 L235.77,598.90 L236.88,599.08 L237.99,599.25 L239.10,599.43" fill="none" stroke="#ff3a3a" stroke-width="1.1"/>
<path d="M18.50,502.40 L19.61,505.59 L20.72,508.67 L21.83,511.66 L22.93,514.54 L24.04,517.34 L25.15,520.04 L26.26,522.66 L27.37,525.20 L28.48,527.66 L29.59,530.04 L30.69,532.36 L31.80,534.60 L32.91,536.78 L34.02,538.90 L35.13,540.96 L36.24,542.96 L37.35,544.91 L38.45,546.80 L39.56,548.65 L40.67,550.44 L41.78,552.19 L42.89,553.89 L44.00,555.55 L45.11,557.17 L46.21,558.75 L47.32,560.29 L48.43,561.79 L49.54,563.26 L50.65,564.69 L51.76,566.09 L52.86,567.45 L53.97,568.79 L55.08,570.09 L56.19,571.37 L57.30,572.62 L58.41,573.84 L59.52,575.03 L60.62,576.20 L61.73,577.34 L62.84,578.46 L63.95,579.56 L65.06,580.63 L66.17,581.68 L67.28,582.72 L68.38,583.73 L69.49,584.72 L70.60,585.69 L71.71,586.64 L72.82,587.58 L73.93,588.49 L75.04,589.39 L76.14,590.27 L77.25,591.14 L78.36,591.99 L79.47,592.83 L80.58,593.65 L81.69,594.45 L82.80,595.24 L83.90,596.02 L85.01,596.79 L86.12,597.54 L87.23,598.27 L88.34,599.00 L89.45,599.71 L90.56,600.42 L91.66,601.11 L92.77,601.79 L93.88,602.45 L94.99,603.11 L96.10,603.76 L97.21,604.39 L98.32,605.02 L99.42,605.64 L100.53,606.24 L101.64,606.84 L102.75,607.43 L103.86,608.01 L104.97,608.58 L106.07,609.14 L107.18,609.70 L108.29,610.25 L109.40,610.78 L110.51,611.31 L111.62,611.84 L112.73,612.35 L113.83,612.86 L114.94,613.36 L116.05,613.86 L117.16,614.34 L118.27,614.82 L119.38,615.30 L120.49,615.77 L121.59,616.23 L122.70,616.68 L123.81,617.13 L124.92,617.57 L126.03,618.01 L127.14,618.44 L128.25,618.87 L129.35,619.29 L130.46,619.70 L131.57,620.11 L132.68,620.52 L133.79,620.92 L134.90,621.31 L136.01,621.70 L137.11,622.09 L138.22,622.47 L139.33,622.84 L140.44,623.21 L141.55,623.58 L142.66,623.94 L143.77,624.30 L144.87,624.65 L145.98,625.00 L147.09,625.35 L148.20,625.69 L149.31,626.03 L150.42,626.36 L151.53,626.69 L152.63,627.02 L153.74,627.34 L154.85,627.66 L155.96,627.97 L157.07,628.29 L158.18,628.59 L159.28,628.90 L160.39,629.20 L161.50,629.50 L162.61,629.79 L163.72,630.08 L164.83,630.37 L165.94,630.66 L167.04,630.94 L168.15,631.22 L169.26,631.50 L170.37,631.77 L171.48,632.04 L172.59,632.31 L173.70,632.58 L174.80,632.84 L175.91,633.10 L177.02,633.36 L178.13,633.61 L179.24,633.87 L180.35,634.11 L181.46,634.36 L182.56,634.61 L183.67,634.85 L184.78,635.09 L185.89,635.33 L187.00,635.56 L188.11,635.80 L189.22,636.03 L190.32,636.26 L191.43,636.48 L192.54,636.71 L193.65,636.93 L194.76,637.15 L195.87,637.37 L196.98,637.59 L198.08,637.80 L199.19,638.01 L200.30,638.22 L201.41,638.43 L202.52,638.64 L203.63,638.84 L204.74,639.05 L205.84,639.25 L206.95,639.45 L208.06,639.64 L209.17,639.84 L210.28,640.03 L211.39,640.23 L212.49,640.42 L213.60,640.61 L214.71,640.79 L215.82,640.98 L216.93,641.16 L218.04,641.35 L219.15,641.53 L220.25,641.71 L221.36,641.89 L222.47,642.06 L223.58,642.24 L224.69,642.41 L225.80,642.58 L226.91,642.75 L228.01,642.92 L229.12,643.09 L230.23,643.26 L231.34,643.42 L232.45,643.59 L233.56,643.75 L234.67,643.91 L235.77,644.07 L236.88,644.23 L237.99,644.39 L239.10,644.54" fill="none" stroke="#33dd33" stroke-width="1.1"/>
<circle cx="39.20" cy="507.30" r="2.9" fill="none" stroke="#3a3aff" stroke-width="1"/>
<rect x="38.70" y="506.80" width="1" height="1" fill="#3a3aff" opacity="0.7"/>
<circle cx="44.80" cy="531.80" r="2.9" fill="none" stroke="#3a3aff" stroke-width="1"/>
<rect x="44.30" y="531.30" width="1" height="1" fill="#3a3aff" opacity="0.7"/>
<circle cx="70.50" cy="555.10" r="2.9" fill="none" stroke="#3a3aff" stroke-width="1"/>
<rect x="70.00" y="554.60" width="1" height="1" fill="#3a3aff" opacity="0.7"/>
<circle cx="122.70" cy="568.60" r="2.9" fill="none" stroke="#3a3aff" stroke-width="1"/>
<rect x="122.20" y="568.10" width="1" height="1" fill="#3a3aff" opacity="0.7"/>
<rect x="22.60" y="514.10" width="6.6" height="6.6" fill="none" stroke="#ff3a3a" stroke-width="1"/>
<rect x="25.40" y="516.90" width="1" height="1" fill="#ff3a3a" opacity="0.7"/>
<rect x="52.00" y="538.10" width="6.6" height="6.6" fill="none" stroke="#ff3a3a" stroke-width="1"/>
<rect x="54.80" y="540.90" width="1" height="1" fill="#ff3a3a" opacity="0.7"/>
<rect x="60.80" y="548.10" width="6.6" height="6.6" fill="none" stroke="#ff3a3a" stroke-width="1"/>
<rect x="63.60" y="550.90" width="1" height="1" fill="#ff3a3a" opacity="0.7"/>
<rect x="106.80" y="567.40" width="6.6" height="6.6" fill="none" stroke="#ff3a3a" stroke-width="1"/>
<rect x="109.60" y="570.20" width="1" height="1" fill="#ff3a3a" opacity="0.7"/>
<rect x="199.40" y="586.80" width="6.6" height="6.6" fill="none" stroke="#ff3a3a" stroke-width="1"/>
<rect x="202.20" y="589.60" width="1" height="1" fill="#ff3a3a" opacity="0.7"/>
<path d="M44.80,527.10 L48.30,533.94 L41.30,533.94 Z" fill="none" stroke="#33dd33" stroke-width="1"/>
<rect x="44.30" y="530.40" width="1" height="1" fill="#33dd33" opacity="0.7"/>
<path d="M70.70,546.40 L74.20,553.24 L67.20,553.24 Z" fill="none" stroke="#33dd33" stroke-width="1"/>
<rect x="70.20" y="549.70" width="1" height="1" fill="#33dd33" opacity="0.7"/>
<path d="M44.40,557.40 L47.90,564.24 L40.90,564.24 Z" fill="none" stroke="#33dd33" stroke-width="1"/>
<rect x="43.90" y="560.70" width="1" height="1" fill="#33dd33" opacity="0.7"/>
<path d="M70.70,572.70 L74.20,579.54 L67.20,579.54 Z" fill="none" stroke="#33dd33" stroke-width="1"/>
<rect x="70.20" y="576.00" width="1" height="1" fill="#33dd33" opacity="0.7"/>
<path d="M44.40,588.80 L47.90,595.64 L40.90,595.64 Z" fill="none" stroke="#33dd33" stroke-width="1"/>
<rect x="43.90" y="592.10" width="1" height="1" fill="#33dd33" opacity="0.7"/>
<path d="M70.40,631.20 L73.90,638.04 L66.90,638.04 Z" fill="none" stroke="#33dd33" stroke-width="1"/>
<rect x="69.90" y="634.50" width="1" height="1" fill="#33dd33" opacity="0.7"/>
<rect x="252.9" y="496.8" width="76.1" height="41.4" fill="#fff" stroke="#444" stroke-width="1"/>
<circle cx="262.60" cy="504.60" r="3.1" fill="none" stroke="#3a3aff" stroke-width="1"/>
<rect x="262.10" y="504.10" width="1" height="1" fill="#3a3aff" opacity="0.7"/>
<rect x="259.20" y="513.60" width="6.8" height="6.8" fill="none" stroke="#ff3a3a" stroke-width="1"/>
<rect x="262.10" y="516.50" width="1" height="1" fill="#ff3a3a" opacity="0.7"/>
<path d="M262.60,525.00 L266.19,532.02 L259.01,532.02 Z" fill="none" stroke="#33dd33" stroke-width="1"/>
<rect x="262.10" y="528.40" width="1" height="1" fill="#33dd33" opacity="0.7"/>
<text x="279.10" y="509.00" style="font-family:'Liberation Serif',serif;font-size:9.3px;font-weight:normal" text-anchor="start" fill="#000">Hsd</text>
<text x="279.10" y="520.60" style="font-family:'Liberation Serif',serif;font-size:9.3px;font-weight:normal" text-anchor="start" fill="#000">Dox</text>
<text x="279.10" y="531.80" style="font-family:'Liberation Serif',serif;font-size:9.3px;font-weight:normal" text-anchor="start" fill="#000">D-Hsd</text>
<text x="346.50" y="501.00" style="font-family:'Liberation Serif',serif;font-size:24.5px;font-weight:normal" text-anchor="start" fill="#000">F</text>
<line x1="373.50" y1="505.80" x2="373.50" y2="691.00" stroke="#444" stroke-width="1"/>
<line x1="373.00" y1="690.50" x2="594.00" y2="690.50" stroke="#444" stroke-width="1"/>
<line x1="373.50" y1="644.42" x2="375.90" y2="644.42" stroke="#444" stroke-width="1"/>
<line x1="373.50" y1="598.35" x2="375.90" y2="598.35" stroke="#444" stroke-width="1"/>
<line x1="373.50" y1="552.27" x2="375.90" y2="552.27" stroke="#444" stroke-width="1"/>
<line x1="373.50" y1="506.20" x2="375.90" y2="506.20" stroke="#444" stroke-width="1"/>
<line x1="395.55" y1="690.50" x2="395.55" y2="688.10" stroke="#444" stroke-width="1"/>
<line x1="417.60" y1="690.50" x2="417.60" y2="688.10" stroke="#444" stroke-width="1"/>
<line x1="439.65" y1="690.50" x2="439.65" y2="688.10" stroke="#444" stroke-width="1"/>
<line x1="461.70" y1="690.50" x2="461.70" y2="688.10" stroke="#444" stroke-width="1"/>
<line x1="483.75" y1="690.50" x2="483.75" y2="688.10" stroke="#444" stroke-width="1"/>
<line x1="505.80" y1="690.50" x2="505.80" y2="688.10" stroke="#444" stroke-width="1"/>
<line x1="527.85" y1="690.50" x2="527.85" y2="688.10" stroke="#444" stroke-width="1"/>
<line x1="549.90" y1="690.50" x2="549.90" y2="688.10" stroke="#444" stroke-width="1"/>
<line x1="571.95" y1="690.50" x2="571.95" y2="688.10" stroke="#444" stroke-width="1"/>
<line x1="594.00" y1="690.50" x2="594.00" y2="688.10" stroke="#444" stroke-width="1"/>
<line x1="373.5" y1="598.5" x2="594.0" y2="598.5" stroke="#555" stroke-width="0.9" stroke-dasharray="2.5,1.5"/>
<text x="370.30" y="510.60" style="font-family:'Liberation Sans',sans-serif;font-size:7.5px;font-weight:normal" text-anchor="end" fill="#222">2</text>
<text x="370.30" y="690.60" style="font-family:'Liberation Sans',sans-serif;font-size:8.2px;font-weight:normal" text-anchor="end" fill="#222">0</text>
<text x="355.50" y="589.80" style="font-family:'Liberation Sans',sans-serif;font-size:8.2px;font-weight:normal" text-anchor="start" fill="#222">CI</text>
<text x="375.40" y="702.60" style="font-family:'Liberation Sans',sans-serif;font-size:8.2px;font-weight:normal" text-anchor="middle" fill="#222">0</text>
<text x="483.70" y="702.60" style="font-family:'Liberation Sans',sans-serif;font-size:8.2px;font-weight:normal" text-anchor="middle" fill="#222">0.5</text>
<text x="593.50" y="702.60" style="font-family:'Liberation Sans',sans-serif;font-size:8.2px;font-weight:normal" text-anchor="middle" fill="#222">1</text>
<text x="478.80" y="711.20" style="font-family:'Liberation Sans',sans-serif;font-size:8.2px;font-weight:normal" text-anchor="start" fill="#222">Fa</text>
<path d="M387.30,511.04 L388.22,516.67 L389.14,521.82 L390.05,526.55 L390.97,530.93 L391.89,535.00 L392.81,538.79 L393.72,542.34 L394.64,545.67 L395.56,548.80 L396.48,551.75 L397.40,554.54 L398.31,557.19 L399.23,559.71 L400.15,562.10 L401.07,564.39 L401.98,566.57 L402.90,568.65 L403.82,570.65 L404.74,572.57 L405.66,574.41 L406.57,576.18 L407.49,577.89 L408.41,579.53 L409.33,581.12 L410.25,582.65 L411.16,584.13 L412.08,585.57 L413.00,586.95 L413.92,588.30 L414.83,589.61 L415.75,590.87 L416.67,592.11 L417.59,593.30 L418.51,594.47 L419.42,595.60 L420.34,596.71 L421.26,597.78 L422.18,598.83 L423.09,599.86 L424.01,600.86 L424.93,601.84 L425.85,602.79 L426.77,603.72 L427.68,604.64 L428.60,605.53 L429.52,606.40 L430.44,607.26 L431.35,608.10 L432.27,608.92 L433.19,609.73 L434.11,610.52 L435.03,611.29 L435.94,612.05 L436.86,612.80 L437.78,613.54 L438.70,614.26 L439.62,614.97 L440.53,615.67 L441.45,616.35 L442.37,617.03 L443.29,617.69 L444.20,618.34 L445.12,618.99 L446.04,619.62 L446.96,620.24 L447.88,620.86 L448.79,621.46 L449.71,622.06 L450.63,622.65 L451.55,623.23 L452.46,623.80 L453.38,624.37 L454.30,624.92 L455.22,625.48 L456.14,626.02 L457.05,626.56 L457.97,627.09 L458.89,627.61 L459.81,628.13 L460.72,628.64 L461.64,629.14 L462.56,629.64 L463.48,630.14 L464.40,630.63 L465.31,631.11 L466.23,631.59 L467.15,632.06 L468.07,632.53 L468.98,632.99 L469.90,633.45 L470.82,633.90 L471.74,634.35 L472.66,634.80 L473.57,635.24 L474.49,635.68 L475.41,636.11 L476.33,636.54 L477.25,636.97 L478.16,637.39 L479.08,637.81 L480.00,638.22 L480.92,638.64 L481.83,639.04 L482.75,639.45 L483.67,639.85 L484.59,640.25 L485.51,640.65 L486.42,641.04 L487.34,641.43 L488.26,641.82 L489.18,642.20 L490.09,642.58 L491.01,642.96 L491.93,643.34 L492.85,643.71 L493.77,644.09 L494.68,644.46 L495.60,644.82 L496.52,645.19 L497.44,645.55 L498.35,645.91 L499.27,646.27 L500.19,646.63 L501.11,646.99 L502.03,647.34 L502.94,647.69 L503.86,648.04 L504.78,648.39 L505.70,648.74 L506.62,649.08 L507.53,649.43 L508.45,649.77 L509.37,650.11 L510.29,650.45 L511.20,650.79 L512.12,651.13 L513.04,651.46 L513.96,651.80 L514.88,652.13 L515.79,652.46 L516.71,652.79 L517.63,653.12 L518.55,653.45 L519.46,653.78 L520.38,654.11 L521.30,654.44 L522.22,654.76 L523.14,655.09 L524.05,655.41 L524.97,655.74 L525.89,656.06 L526.81,656.38 L527.72,656.71 L528.64,657.03 L529.56,657.35 L530.48,657.67 L531.40,658.00 L532.31,658.32 L533.23,658.64 L534.15,658.96 L535.07,659.28 L535.98,659.60 L536.90,659.92 L537.82,660.24 L538.74,660.57 L539.66,660.89 L540.57,661.21 L541.49,661.53 L542.41,661.86 L543.33,662.18 L544.25,662.50 L545.16,662.83 L546.08,663.15 L547.00,663.48 L547.92,663.81 L548.83,664.14 L549.75,664.47 L550.67,664.80 L551.59,665.13 L552.51,665.46 L553.42,665.80 L554.34,666.13 L555.26,666.47 L556.18,666.81 L557.09,667.15 L558.01,667.50 L558.93,667.84 L559.85,668.19 L560.77,668.54 L561.68,668.89 L562.60,669.25 L563.52,669.61 L564.44,669.97 L565.35,670.34 L566.27,670.71 L567.19,671.08 L568.11,671.46 L569.03,671.85 L569.94,672.23 L570.86,672.63 L571.78,673.03 L572.70,673.43 L573.62,673.84 L574.53,674.26 L575.45,674.69 L576.37,675.12 L577.29,675.57 L578.20,676.02 L579.12,676.49 L580.04,676.97 L580.96,677.46 L581.88,677.97 L582.79,678.50 L583.71,679.04 L584.63,679.61 L585.55,680.21 L586.46,680.83 L587.38,681.50 L588.30,682.21" fill="none" stroke="#3a3aff" stroke-width="1.1"/>
<circle cx="444.10" cy="666.90" r="2.9" fill="none" stroke="#3a3aff" stroke-width="1"/>
<rect x="443.60" y="666.40" width="1" height="1" fill="#3a3aff" opacity="0.7"/>
<circle cx="492.20" cy="669.70" r="2.9" fill="none" stroke="#3a3aff" stroke-width="1"/>
<rect x="491.70" y="669.20" width="1" height="1" fill="#3a3aff" opacity="0.7"/>
<circle cx="509.90" cy="638.90" r="2.9" fill="none" stroke="#3a3aff" stroke-width="1"/>
<rect x="509.40" y="638.40" width="1" height="1" fill="#3a3aff" opacity="0.7"/>
<circle cx="526.60" cy="658.30" r="2.9" fill="none" stroke="#3a3aff" stroke-width="1"/>
<rect x="526.10" y="657.80" width="1" height="1" fill="#3a3aff" opacity="0.7"/>
<circle cx="539.70" cy="613.70" r="2.9" fill="none" stroke="#3a3aff" stroke-width="1"/>
<rect x="539.20" y="613.20" width="1" height="1" fill="#3a3aff" opacity="0.7"/>
<circle cx="562.20" cy="632.30" r="2.9" fill="none" stroke="#3a3aff" stroke-width="1"/>
<rect x="561.70" y="631.80" width="1" height="1" fill="#3a3aff" opacity="0.7"/>
<rect x="607.6" y="500.2" width="75.8" height="17.8" fill="#fff" stroke="#444" stroke-width="1"/>
<circle cx="617.00" cy="508.40" r="2.9" fill="none" stroke="#3a3aff" stroke-width="1"/>
<rect x="616.50" y="507.90" width="1" height="1" fill="#3a3aff" opacity="0.7"/>
<text x="630.20" y="512.20" style="font-family:'Liberation Serif',serif;font-size:8.8px;font-weight:normal" text-anchor="start" fill="#000">D-Hsd</text>
</svg>
</body></html>
